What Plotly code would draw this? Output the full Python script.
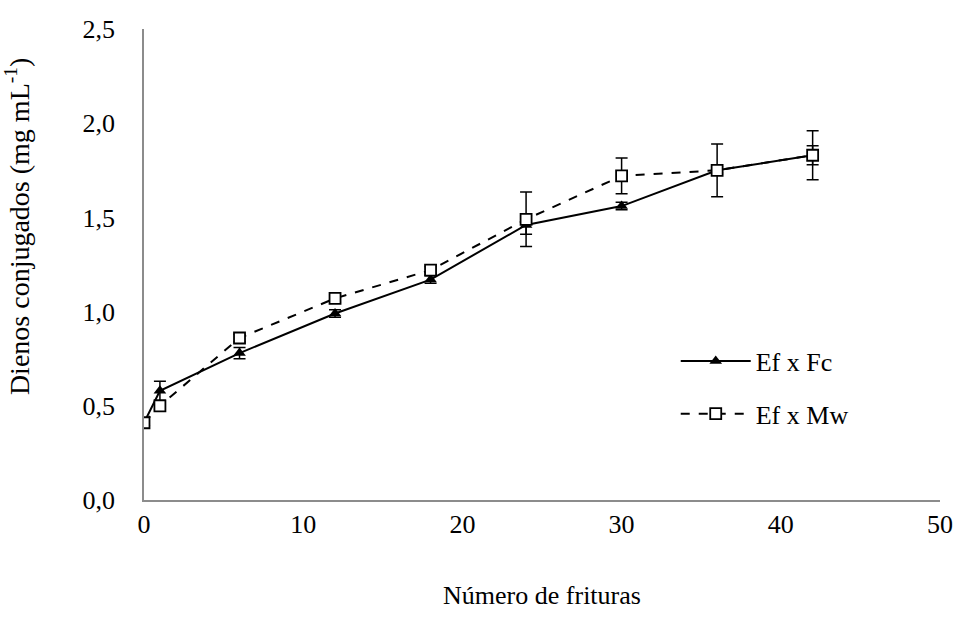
import plotly.graph_objects as go

frituras = [0, 1, 6, 12, 18, 24, 30, 36, 42]
fc_vals = [0.41, 0.58, 0.78, 0.99, 1.17, 1.46, 1.56, 1.75, 1.83]
fc_err = [0.01, 0.05, 0.03, 0.02, 0.02, 0.05, 0.02, 0.02, 0.05]
mw_vals = [0.41, 0.50, 0.86, 1.07, 1.22, 1.49, 1.72, 1.75, 1.83]
mw_err = [0.01, 0.02, 0.02, 0.02, 0.02, 0.145, 0.095, 0.14, 0.13]
x_ticks = [0, 10, 20, 30, 40, 50]
y_ticks = [0.0, 0.5, 1.0, 1.5, 2.0, 2.5]
y_tick_text = ["0,0", "0,5", "1,0", "1,5", "2,0", "2,5"]
y_title = "Dienos conjugados (mg mL<sup>-1</sup>)"

FONT = "Liberation Serif, Times New Roman, serif"
FS = 26

fig = go.Figure()
fig.add_trace(go.Scatter(
    x=frituras, y=fc_vals, name="Ef x Fc", mode="lines+markers", legendgroup="fc",
    line=dict(color="black", width=2),
    marker=dict(symbol="triangle-up", size=11, color="black"),
    error_y=dict(type="data", array=fc_err, color="black", thickness=1.5, width=6),
))
fig.add_trace(go.Scatter(
    x=frituras, y=mw_vals, name="Ef x Mw", mode="lines+markers", legendgroup="mw",
    line=dict(color="black", width=2, dash="dash"),
    marker=dict(symbol="square", size=11, color="white", line=dict(color="black", width=1.8)),
    error_y=dict(type="data", array=mw_err, color="black", thickness=1.5, width=6),
))

fig.add_annotation(
    text=y_title, textangle=-90, showarrow=False,
    xref="paper", yref="paper", x=-0.158, y=0.582,
    xanchor="center", yanchor="middle",
    font=dict(family=FONT, size=28, color="black"),
)

fig.update_layout(
    width=975, height=622,
    margin=dict(l=144, r=35, t=29, b=122),
    paper_bgcolor="white", plot_bgcolor="white",
    font=dict(family=FONT, size=FS, color="black"),
    showlegend=True,
    legend=dict(x=0.668, y=0.345, xanchor="left", yanchor="top",
                font=dict(family=FONT, size=FS), itemwidth=70,
                tracegroupgap=16, bgcolor="rgba(0,0,0,0)"),
    xaxis=dict(range=[0, 50], tickvals=x_ticks, showgrid=False, zeroline=False,
               showline=True, linecolor="#8c8c8c", linewidth=1.5, ticks="",
               tickfont=dict(family=FONT, size=FS),
               title=dict(text="Número de frituras", standoff=48,
                          font=dict(family=FONT, size=FS))),
    yaxis=dict(range=[0, 2.5], tickvals=y_ticks, ticktext=y_tick_text,
               showgrid=False, zeroline=False,
               showline=True, linecolor="#8c8c8c", linewidth=1.5, ticks="",
               ticklabelstandoff=22,
               tickfont=dict(family=FONT, size=FS)),
)

fig.write_html("out.html")
